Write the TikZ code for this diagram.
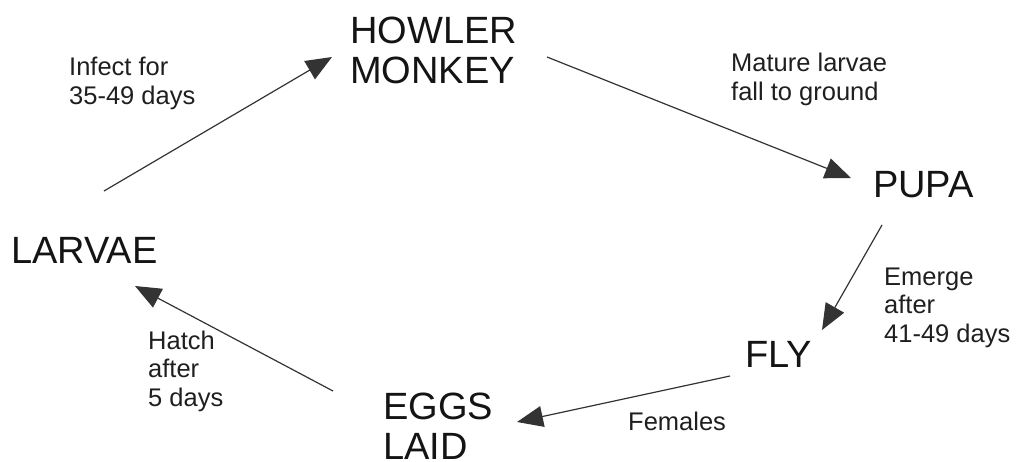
\documentclass[tikz,border=0pt]{standalone}
\usepackage{fontspec}
\setmainfont{Liberation Sans}
\usetikzlibrary{arrows.meta}

% multi-line nodes sit on the baseline of their last line
\tikzset{
  stage/.style={anchor=base west, inner sep=0pt, align=left,
    font=\fontsize{38}{40}\selectfont, text=black!92},
  note/.style={anchor=base west, inner sep=0pt, align=left,
    font=\fontsize{25.5}{28.5}\selectfont, text=black!88},
  flow/.style={draw=black!80, line width=1.2pt,
    -{Triangle[length=26pt, width=21pt]}},
}

\begin{document}
\begin{tikzpicture}[x=1pt, y=-1pt]
  \useasboundingbox (0,0) rectangle (1016,461);

  % life-cycle stages
  \node[stage] (howler) at (350,83)  {HOWLER\\MONKEY};
  \node[stage] (pupa)   at (873,197) {PUPA};
  \node[stage] (fly)    at (745,367) {FLY};
  \node[stage] (eggs)   at (383,459) {EGGS\\LAID};
  \node[stage] (larvae) at (11,263)  {LARVAE};

  % transition notes
  \node[note] (infect)  at (69,104)  {Infect for\\35-49 days};
  \node[note] (mature)  at (731,100) {Mature larvae\\fall to ground};
  \node[note] (emerge)  at (884,342) {Emerge\\after\\41-49 days};
  \node[note] (females) at (628,430) {Females};
  \node[note] (hatch)   at (148,406) {Hatch\\after\\5 days};

  % arrow ends beside each stage
  \coordinate (larvaeOut) at (104,191);
  \coordinate (howlerIn)  at (332,57);
  \coordinate (howlerOut) at (547,57);
  \coordinate (pupaIn)    at (851,178);
  \coordinate (pupaOut)   at (882,225);
  \coordinate (flyIn)     at (822,330);
  \coordinate (flyOut)    at (730,376);
  \coordinate (eggsIn)    at (517,422);
  \coordinate (eggsOut)   at (333,391);
  \coordinate (larvaeIn)  at (135,286);

  \draw[flow] (larvaeOut) -- (howlerIn);
  \draw[flow] (howlerOut) -- (pupaIn);
  \draw[flow] (pupaOut)   -- (flyIn);
  \draw[flow] (flyOut)    -- (eggsIn);
  \draw[flow] (eggsOut)   -- (larvaeIn);
\end{tikzpicture}
\end{document}
